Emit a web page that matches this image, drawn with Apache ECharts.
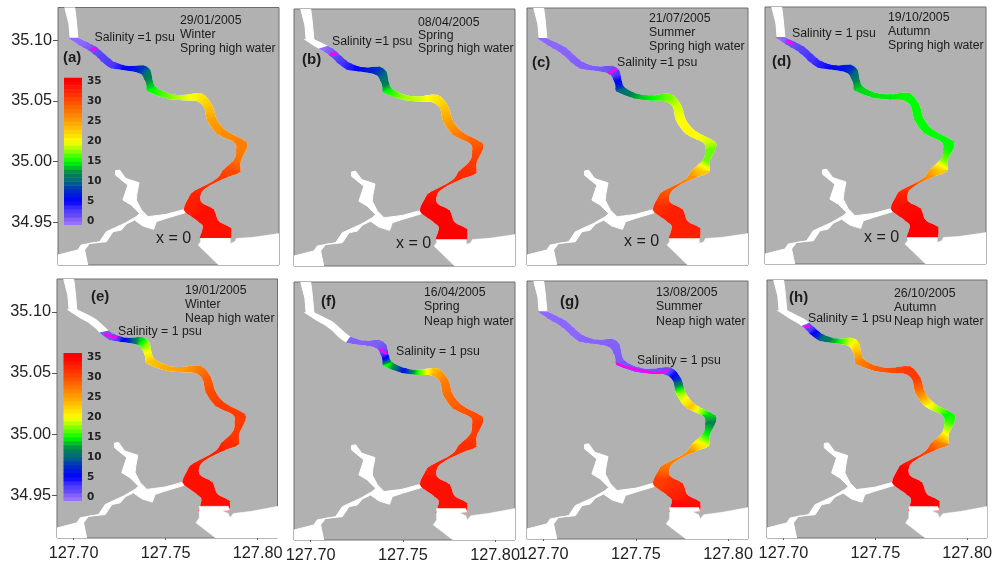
<!DOCTYPE html>
<html><head><meta charset="utf-8">
<style>html,body{margin:0;padding:0;background:#fff}#c{width:995px;height:566px}</style>
<script src="https://cdn.jsdelivr.net/npm/echarts@6/dist/echarts.min.js"></script>
</head><body><div id="c"></div>
<script>
// ---------- data ----------
const xTicks = [127.70, 127.75, 127.80];
const yTicks = [34.95, 35.00, 35.05, 35.10];
const legendTicks = [0, 5, 10, 15, 20, 25, 30, 35];
const legendLevels = [-1,0,1,2,3,4,5,6,7,8,9,10,11,12,13,14,15,16,17,18,19,20,21,22,23,24,25,26,27,28,29,30,31,32,33,34,35];
const tags = ['(a)','(b)','(c)','(d)','(e)','(f)','(g)','(h)'];
const dates = ['29/01/2005','08/04/2005','21/07/2005','19/10/2005','19/01/2005','16/04/2005','13/08/2005','26/10/2005'];
const seasons = ['Winter','Spring','Summer','Autumn','Winter','Spring','Summer','Autumn'];
const tides = ['Spring high water','Spring high water','Spring high water','Spring high water','Neap high water','Neap high water','Neap high water','Neap high water'];
const salinityNotes = ['Salinity =1 psu','Salinity =1 psu','Salinity =1 psu','Salinity = 1 psu','Salinity = 1 psu','Salinity = 1 psu','Salinity = 1 psu','Salinity = 1 psu'];

const northLon = [127.7018,127.7067,127.7092,127.7118,127.7139,127.7163,127.7190,127.7217,127.7289,127.7371,127.7407,127.7421,127.7443,127.7515,127.7588,127.7687,127.7741,127.7768,127.7823,127.7922,127.7928,127.7895,127.7891,127.7823,127.7714,127.7678,127.7687,127.7750,127.7777,127.7841,127.7844];
const northLat = [35.1014,35.0978,35.0959,35.0937,35.0910,35.0877,35.0841,35.0814,35.0781,35.0786,35.0748,35.0657,35.0602,35.0553,35.0542,35.0553,35.0465,35.0342,35.0246,35.0164,35.0109,35.0001,34.9917,34.9876,34.9794,34.9725,34.9656,34.9602,34.9506,34.9451,34.9377];
const southLon = [127.6976,127.7027,127.7054,127.7081,127.7105,127.7127,127.7150,127.7199,127.7262,127.7353,127.7380,127.7394,127.7401,127.7497,127.7588,127.7660,127.7705,127.7723,127.7777,127.7868,127.7880,127.7868,127.7808,127.7768,127.7651,127.7627,127.7597,127.7642,127.7678,127.7700,127.7683];
const southLat = [35.1014,35.0964,35.0940,35.0918,35.0890,35.0863,35.0827,35.0775,35.0761,35.0734,35.0685,35.0630,35.0583,35.0528,35.0512,35.0506,35.0452,35.0342,35.0232,35.0164,35.0095,35.0013,34.9925,34.9848,34.9752,34.9711,34.9607,34.9547,34.9506,34.9464,34.9377];

const upstreamLon = [127.6946,127.7000,127.7009,127.7018,127.6976,127.6969,127.6955];
const upstreamLat = [35.1274,35.1274,35.1165,35.1014,35.1014,35.1137,35.1219];
const tributaryLon = [127.7222,127.7244,127.7277,127.7349,127.7338,127.7334,127.7362,127.7398,127.7497,127.7597,127.7600,127.7497,127.7443,127.7428,127.7371,127.7325,127.7280,127.7253,127.7208,127.7172,127.7081,127.7054,127.7078,127.6890,127.6890,127.6946,127.7018,127.7036,127.7136,127.7172,127.7271,127.7334,127.7353,127.7307,127.7262,127.7280,127.7289,127.7244,127.7222];
const tributaryLat = [34.9925,34.9931,34.9862,34.9826,34.9739,34.9684,34.9602,34.9547,34.9566,34.9607,34.9580,34.9533,34.9506,34.9443,34.9470,34.9519,34.9486,34.9437,34.9423,34.9341,34.9327,34.9273,34.9100,34.9100,34.9223,34.9245,34.9273,34.9314,34.9341,34.9423,34.9492,34.9547,34.9574,34.9643,34.9684,34.9766,34.9807,34.9862,34.9890];
const coastSpringLon = [127.7683,127.7844,127.7844,127.7868,127.7877,127.7967,127.8115,127.8115,127.7814,127.7669,127.7683];
const coastSpringLat = [34.9377,34.9377,34.9327,34.9341,34.9368,34.9377,34.9410,34.9100,34.9100,34.9314,34.9341];
const coastNeapLon = [127.7683,127.7841,127.7848,127.7808,127.7841,127.7850,127.7868,127.7967,127.8115,127.8115,127.7814,127.7665,127.7683];
const coastNeapLat = [34.9408,34.9408,34.9377,34.9371,34.9349,34.9314,34.9349,34.9368,34.9410,34.9100,34.9100,34.9273,34.9314];

const salinityA = [0.2,0.3,0.6,1,1.5,2,2.5,3,5,8,11,13,15,17,19,21,23,25,26,27,27,28,30,31,32,33,33,34,34,34,34];
const salinityB = [null,null,0.1,0.5,1,2,3,4,5.5,8,10,12,15,18,19,21,23,25,27,29,30,31,32,32,33,34,35,35,35,35,35];
const salinityC = [0.2,0.3,0.3,0.4,0.4,0.4,0.5,0.5,0.6,1,3,6,10,13,15,17,19,20,20.5,19,17,17,23,26,29,30,32,33,33,33,33];
const salinityD = [0.2,1,1.5,2,2.5,3,3.2,4,5,7,10,12.5,14,14.5,14.5,15,15,15,15,15,15,17,23,26,31,33,34,34.5,35,35,35];
const salinityE = [null,null,null,null,null,null,0.8,1,5,14,18,21,23,24.5,25,27,29,30,31,31,31,31,32,33,33,34,34,34,34,34,34];
const salinityF = [null,null,null,null,null,null,null,0.5,0.5,0.6,1,5,15,6,16,24,27,28,29,30,31,31,32,32,33,33,34,34,34,34,34];
const salinityG = [0.2,0.3,0.3,0.3,0.3,0.3,0.3,0.4,0.4,0.5,0.5,0.6,0.7,0.8,0.9,1.2,8,18,23,14,12,15,21,26,27,28,31,32,33,34,35];
const salinityH = [null,null,null,null,0.5,2.5,5,10,13,19,22,25,27,29,30,31,31,27,20,15,16,20,27,30,33,35,35,35,35,35,35];
const salinities = [salinityA,salinityB,salinityC,salinityD,salinityE,salinityF,salinityG,salinityH];

const contourLonLat = [
  [[127.7090,35.0918],[127.7118,35.0940]],
  [[127.7105,35.0890],[127.7141,35.0904]],
  [[127.7354,35.0726],[127.7398,35.0767]],
  [[127.7027,35.0989],[127.7063,35.0967]],
  [[127.7168,35.0819],[127.7199,35.0803],[127.7235,35.0789]],
  [[127.7376,35.0720],[127.7412,35.0676]],
  [[127.7394,35.0591],[127.7430,35.0569],[127.7521,35.0534],[127.7593,35.0515],[127.7656,35.0520],[127.7674,35.0548]],
  [[127.7114,35.0885],[127.7145,35.0885]]
];

const colorValues = [0,1,3,5,8,10,12,15,18,20,25,30,35];
const colorStops = ['#9a70ff','#6c52f0','#4a38ff','#0000ff','#0030c0','#006a80','#008050','#00ff00','#a0ff00','#ffff00','#ffa000','#ff4a00','#ff0000'];

// ---------- layout ----------
const panels = [
  [58,7.5,221,257.5],[294,9,221,257],[527,8,221,257],[765,7,221,257],
  [57,279,220.5,259],[294,282,221,258],[527,281,221,258],[767,280,220,258]
];
const dateAnchors = [[180,20,14],[418,22,13],[649,18,14],[888,17,14],[185,290,14],[424,292,14.5],[656,292,14.5],[894,293,14]];
const noteAnchors = [[94.5,37],[332,41],[617,62],[792,33],[118,331],[396,351],[637,360],[808,318]];
const tagAnchors = [[63,57],[302,59],[532,62],[772,61],[91,296],[321,301],[560,301],[789,297]];
const zeroAnchors = [[156,238],[396,243],[624,241],[864,237]];
const barBoxes = [[64,77.5,18,147.5],[63.5,353,18.5,148]];
const xRange = [127.6910,127.8108], yRange = [34.9149,35.1269];

// ---------- helpers ----------
function hex(c){return [1,3,5].map(i=>parseInt(c.substr(i,2),16));}
function colorOf(v){
  v=Math.max(0,Math.min(35,v));
  for(let i=0;i<colorValues.length-1;i++){
    if(v<=colorValues[i+1]){
      const t=(v-colorValues[i])/(colorValues[i+1]-colorValues[i]);
      const a=hex(colorStops[i]),b=hex(colorStops[i+1]);
      return 'rgb('+a.map((x,k)=>Math.round(x+(b[k]-x)*t)).join(',')+')';
    }
  }
  return colorStops[colorStops.length-1];
}
// rounded path of a bank between two neighbouring stations (drawing only)
function cr(p0,p1,p2,p3,t){
  const t2=t*t,t3=t2*t;
  return 0.5*(2*p1+(p2-p0)*t+(2*p0-5*p1+4*p2-p3)*t2+(3*p1-p0-3*p2+p3)*t3);
}
function bankPath(lon,lat,i){
  const n=lon.length,a=Math.max(0,i-1),b=Math.min(n-1,i+2),pts=[];
  for(let k=0;k<=4;k++){
    const t=k/4;
    pts.push([cr(lon[a],lon[i],lon[i+1],lon[b],t),cr(lat[a],lat[i],lat[i+1],lat[b],t)]);
  }
  return pts;
}
function polySeries(p,pts,color,z,sw){
  return {type:'custom',xAxisIndex:p,yAxisIndex:p,clip:true,z:z,silent:true,
    data:[pts[0]],
    renderItem:(params,api)=>({type:'polygon',
      shape:{points:pts.map(q=>api.coord(q))},
      style:{fill:color,stroke:color,lineWidth:sw}})};
}
function zip(lon,lat){return lon.map((x,i)=>[x,lat[i]]);}
function wholeRiver(){
  let n=[],s=[];
  for(let i=0;i<northLon.length-1;i++){
    n=n.concat(bankPath(northLon,northLat,i));
    s=s.concat(bankPath(southLon,southLat,i));
  }
  return n.concat(s.reverse());
}
const riverBed=wholeRiver();
const grids=[],xAxes=[],yAxes=[],series=[],graphics=[];
panels.forEach((b,p)=>{
  grids.push({left:b[0],top:b[1],width:b[2],height:b[3],show:true,backgroundColor:'#b1b1b1',borderColor:'#6e6e6e',borderWidth:1});
  const bottom=p>=4,left=p%4===0;
  const lab={fontFamily:'Liberation Sans',fontSize:16.3,color:'#222'};
  xAxes.push({gridIndex:p,type:'value',min:xRange[0],max:xRange[1],splitLine:{show:false},
    axisLine:{show:false},
    axisTick:{show:bottom,length:2,customValues:xTicks,lineStyle:{color:'#666'}},
    axisLabel:Object.assign({show:bottom,customValues:xTicks,margin:8,formatter:v=>v.toFixed(2)},lab)});
  yAxes.push({gridIndex:p,type:'value',min:yRange[0],max:yRange[1],splitLine:{show:false},
    axisLine:{show:false},
    axisTick:{show:left,length:5,customValues:yTicks,lineStyle:{color:'#555'}},
    axisLabel:Object.assign({show:left,customValues:yTicks,margin:6,formatter:v=>v.toFixed(2)},lab)});

  // white land & river bed
  series.push(polySeries(p,zip(tributaryLon,tributaryLat),'#fff',2,1));
  series.push(polySeries(p,zip(upstreamLon,upstreamLat),'#fff',2,1));
  series.push(polySeries(p,riverBed,'#fff',2,1.6));
  series.push(p<4?polySeries(p,zip(coastSpringLon,coastSpringLat),'#fff',2,0.5)
                 :polySeries(p,zip(coastNeapLon,coastNeapLat),'#fff',5,0.5));

  // coloured salinity reaches
  const sal=salinities[p];
  const seg=[];
  for(let i=0;i<sal.length-1;i++) if(sal[i]!==null&&sal[i+1]!==null) seg.push([i,sal[i],sal[i+1]]);
  series.push({type:'custom',xAxisIndex:p,yAxisIndex:p,clip:true,z:3,silent:true,
    encode:{x:-1,y:-1},data:seg,
    renderItem:(params,api)=>{
      const i=api.value(0),s0=api.value(1),s1=api.value(2);
      const nb=bankPath(northLon,northLat,i).map(q=>api.coord(q));
      const sb=bankPath(southLon,southLat,i).map(q=>api.coord(q));
      const L=nb.length-1;
      const m0=[(nb[0][0]+sb[0][0])/2,(nb[0][1]+sb[0][1])/2],m1=[(nb[L][0]+sb[L][0])/2,(nb[L][1]+sb[L][1])/2];
      const stops=[];
      for(let k=0;k<=8;k++) stops.push({offset:k/8,color:colorOf(s0+(s1-s0)*k/8)});
      const g=new echarts.graphic.LinearGradient(m0[0],m0[1],m1[0],m1[1],stops,true);
      return {type:'polygon',shape:{points:nb.concat(sb.slice().reverse())},style:{fill:g,stroke:g,lineWidth:1.6}};
    }});

  // 1 psu contour
  series.push({type:'line',xAxisIndex:p,yAxisIndex:p,z:4,silent:true,showSymbol:false,
    data:contourLonLat[p],lineStyle:{color:'#ff00f0',width:p===6?2.5:3},clip:true});
});

// colour bars
barBoxes.forEach((b,k)=>{
  const g=panels.length+k;
  grids.push({left:b[0],top:b[1],width:b[2],height:b[3],show:false});
  xAxes.push({gridIndex:g,type:'value',min:0,max:1,show:false});
  yAxes.push({gridIndex:g,type:'value',min:-1,max:36,position:'right',splitLine:{show:false},
    axisLine:{show:false},axisTick:{show:false},
    axisLabel:{customValues:legendTicks,margin:5,fontFamily:'DejaVu Sans',fontWeight:'bold',fontSize:10.5,color:'#222'}});
  series.push({type:'custom',xAxisIndex:g,yAxisIndex:g,z:6,silent:true,clip:true,
    encode:{y:0},data:legendLevels.map(v=>[v]),
    renderItem:(params,api)=>{
      const v=api.value(0);
      const a=api.coord([0,v+1]),c=api.coord([1,v]);
      return {type:'rect',shape:{x:a[0],y:a[1],width:c[0]-a[0],height:c[1]-a[1]+0.4},
        style:{fill:colorOf(v+0.5)}};
    }});
});

// texts
function txt(x,y,s,size,weight){
  graphics.push({type:'text',left:x,top:y-size*0.45,z:20,silent:true,
    style:{text:s,fontFamily:'Liberation Sans',fontSize:size,fontWeight:weight||'normal',fill:'#1c1c1c'}});
}
panels.forEach((b,p)=>{
  const d=dateAnchors[p];
  txt(d[0],d[1],dates[p],12.3);
  txt(d[0],d[1]+d[2],seasons[p],12.3);
  txt(d[0],d[1]+2*d[2],tides[p],12.3);
  txt(noteAnchors[p][0],noteAnchors[p][1],salinityNotes[p],12.3);
  txt(tagAnchors[p][0],tagAnchors[p][1],tags[p],15,'bold');
  if(p<4) txt(zeroAnchors[p][0],zeroAnchors[p][1],'x = 0',16);
});

echarts.init(document.getElementById('c'),null,{renderer:'canvas'}).setOption({
  animation:false,backgroundColor:'#fff',
  grid:grids,xAxis:xAxes,yAxis:yAxes,series:series,
  graphic:{elements:graphics}
});
</script></body></html>
